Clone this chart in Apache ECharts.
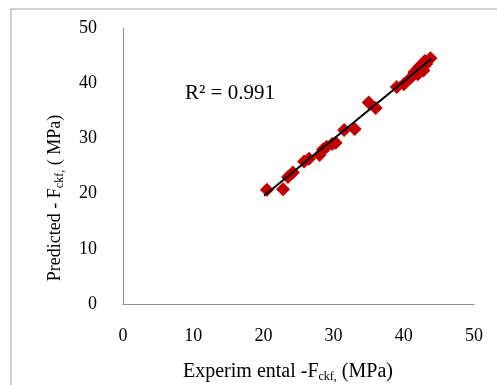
<!DOCTYPE html>
<html><head><meta charset="utf-8">
<script src="https://cdn.jsdelivr.net/npm/echarts@6/dist/echarts.min.js"></script>
<style>html,body{margin:0;padding:0;background:#fff}#c{width:497px;height:385px}</style>
</head><body><div id="c"></div>
<script>
var experimental = [20.5,22.8,23.5,24.2,25.8,26.5,28.0,28.5,29.0,29.8,30.3,31.5,33.0,35.0,36.0,39.0,40.0,41.0,41.5,42.2,43.0,43.8,42.8,43.2,42.0];
var predicted    = [20.7,20.8,23.0,23.8,25.8,26.3,27.0,28.0,28.5,29.0,29.2,31.5,31.7,36.5,35.5,39.3,39.8,41.0,42.0,43.0,44.0,44.5,42.3,43.5,41.6];
var trendX = [20.1, 43.9];
var trendY = [19.6, 44.4];
var xTicks = [0,10,20,30,40,50];
var yTicks = [0,10,20,30,40,50];
var r2Label = 'R² = 0.991';

var pts = experimental.map(function(x,i){return [x,predicted[i]];});
var trend = trendX.map(function(x,i){return [x,trendY[i]];});
var serif = 'Liberation Serif, Times New Roman, serif';
var chart = echarts.init(document.getElementById('c'));
chart.setOption({
  animation:false,
  grid:{left:123,top:28,right:23,bottom:81},
  xAxis:{type:'value',min:xTicks[0],max:xTicks[xTicks.length-1],interval:10,
    axisLine:{show:true,lineStyle:{color:'#8c8c8c',width:1}},axisTick:{show:false},splitLine:{show:false},
    axisLabel:{margin:23,color:'#000',fontFamily:serif,fontSize:18}},
  yAxis:{type:'value',min:yTicks[0],max:yTicks[yTicks.length-1],interval:10,
    axisLine:{show:true,lineStyle:{color:'#8c8c8c',width:1}},axisTick:{show:false},splitLine:{show:false},
    axisLabel:{margin:26,color:'#000',fontFamily:serif,fontSize:18}},
  series:[
    {type:'scatter',data:pts,symbol:'diamond',symbolSize:14,itemStyle:{color:'#C00000',opacity:1},z:2},
    {type:'line',data:trend,symbol:'none',lineStyle:{color:'#000',width:2},z:3}
  ],
  graphic:[
    {type:'rect',shape:{x:11,y:9,width:520,height:420},style:{fill:'none',stroke:'#a0a0a0',lineWidth:1},z:-1},
    {type:'text',left:185,top:83,style:{text:r2Label,font:'21px '+serif,fill:'#000'}},
    {type:'text',x:288,y:372,style:{
      text:'{n|Experim ental -F}{s|ckf,}{n| (MPa)}',align:'center',verticalAlign:'middle',
      rich:{n:{font:'20px '+serif,fill:'#000'},s:{font:'12px '+serif,fill:'#000',padding:[9,0,0,0]}}}},
    {type:'text',x:55,y:198,rotation:Math.PI/2,style:{
      text:'{n|Predicted - F}{s|ckf,}{n| ( MPa)}',align:'center',verticalAlign:'middle',
      rich:{n:{font:'18px '+serif,fill:'#000'},s:{font:'12px '+serif,fill:'#000',padding:[9,0,0,0]}}}}
  ]
});
</script></body></html>
